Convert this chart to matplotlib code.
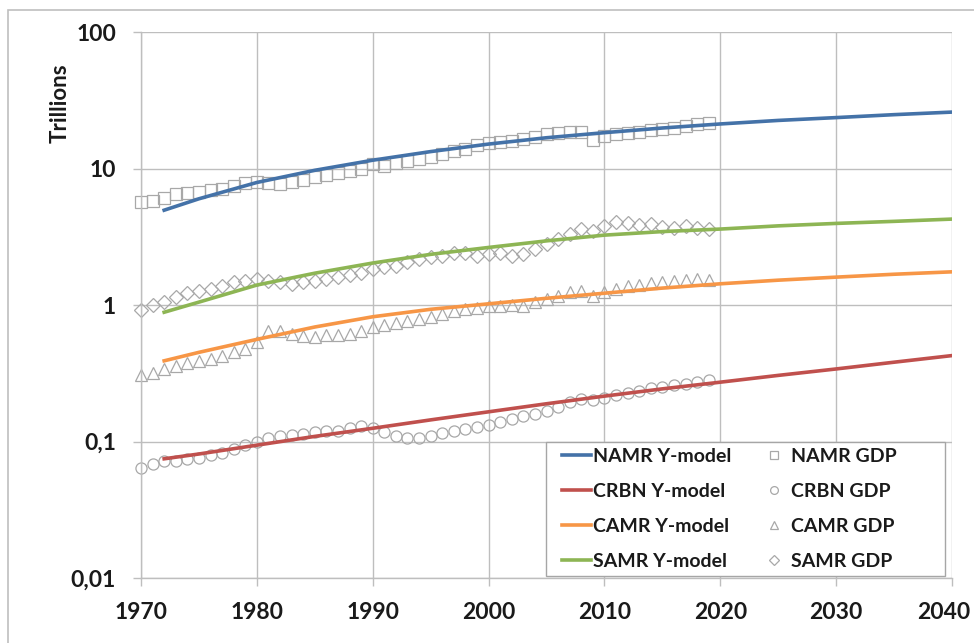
import matplotlib
matplotlib.use("Agg")
import matplotlib.pyplot as plt
from matplotlib.patches import Rectangle
from matplotlib.transforms import ScaledTranslation
from matplotlib.ticker import FixedLocator, FixedFormatter, NullLocator

# ---------------- data ----------------
model_years = [1972, 1975, 1980, 1985, 1990, 1995, 2000, 2005, 2010, 2015, 2020, 2025, 2030, 2035, 2040]
namr_model = [4.95, 6.0, 7.9, 9.7, 11.5, 13.3, 15.1, 16.8, 18.3, 19.8, 21.2, 22.5, 23.6, 24.8, 25.9]
crbn_model = [0.0747, 0.081, 0.094, 0.109, 0.125, 0.144, 0.165, 0.189, 0.215, 0.243, 0.272, 0.305, 0.340, 0.381, 0.426]
camr_model = [0.39, 0.45, 0.56, 0.69, 0.82, 0.93, 1.02, 1.12, 1.22, 1.33, 1.43, 1.52, 1.60, 1.68, 1.75]
samr_model = [0.885, 1.05, 1.40, 1.71, 2.03, 2.35, 2.64, 2.95, 3.25, 3.45, 3.60, 3.80, 3.96, 4.10, 4.26]

gdp_years = list(range(1970, 2020))
namr_gdp = [5.7, 5.8, 6.1, 6.5, 6.6, 6.7, 6.9, 7.1, 7.5, 7.8,
            7.9, 7.8, 7.7, 7.9, 8.3, 8.6, 8.9, 9.2, 9.6, 10.0,
            10.8, 10.5, 10.9, 11.4, 11.8, 12.2, 12.7, 13.5, 14.0, 14.8,
            15.5, 15.7, 15.9, 16.4, 17.1, 17.8, 18.3, 18.5, 18.5, 16.2,
            17.3, 17.8, 18.1, 18.5, 19.2, 19.6, 19.8, 20.5, 21.2, 21.6]
crbn_gdp = [0.0638, 0.0687, 0.0714, 0.0725, 0.0747, 0.0752, 0.079, 0.083, 0.0874, 0.0936,
            0.100, 0.106, 0.109, 0.112, 0.114, 0.117, 0.119, 0.120, 0.125, 0.129,
            0.125, 0.117, 0.109, 0.106, 0.106, 0.109, 0.116, 0.120, 0.124, 0.127,
            0.132, 0.139, 0.147, 0.153, 0.160, 0.168, 0.180, 0.195, 0.205, 0.200,
            0.210, 0.220, 0.228, 0.235, 0.245, 0.250, 0.258, 0.265, 0.272, 0.280]
camr_gdp = [0.307, 0.318, 0.34, 0.36, 0.376, 0.39, 0.403, 0.42, 0.45, 0.476,
            0.533, 0.65, 0.65, 0.61, 0.59, 0.58, 0.60, 0.60, 0.61, 0.65,
            0.69, 0.71, 0.74, 0.76, 0.79, 0.82, 0.86, 0.90, 0.93, 0.95,
            0.99, 0.98, 1.00, 0.99, 1.05, 1.11, 1.17, 1.24, 1.27, 1.17,
            1.24, 1.32, 1.37, 1.40, 1.45, 1.47, 1.50, 1.53, 1.55, 1.53]
samr_gdp = [0.92, 0.995, 1.06, 1.14, 1.22, 1.27, 1.32, 1.38, 1.47, 1.51,
            1.55, 1.51, 1.47, 1.42, 1.47, 1.49, 1.55, 1.61, 1.66, 1.73,
            1.83, 1.89, 1.94, 2.05, 2.17, 2.23, 2.30, 2.40, 2.40, 2.30,
            2.36, 2.40, 2.30, 2.36, 2.57, 2.79, 3.04, 3.31, 3.60, 3.50,
            3.80, 4.03, 3.98, 3.85, 3.91, 3.75, 3.68, 3.80, 3.68, 3.60]

x_ticks = [1970, 1980, 1990, 2000, 2010, 2020, 2030, 2040]
y_ticks = [0.01, 0.1, 1, 10, 100]
y_tick_labels = ["0,01", "0,1", "1", "10", "100"]

# ---------------- figure ----------------
plt.rcParams['font.family'] = ['Lato', 'DejaVu Sans']
W, H = 974, 643
fig = plt.figure(figsize=(W / 100, H / 100), dpi=100)

# outer chart border
fig.patches.append(Rectangle((8 / W, -0.05), 1.1, 1 - 10 / H + 0.05,
                             transform=fig.transFigure, fill=False,
                             edgecolor='#BFBFBF', linewidth=1.2))

ax = fig.add_axes([141 / W, (H - 578) / H, 811 / W, 546 / H])
ax.set_yscale('log')
ax.set_xlim(1970, 2040)
ax.set_ylim(0.01, 100)

grid_c = '#BEBEBE'
ax.xaxis.set_major_locator(FixedLocator(x_ticks))
ax.yaxis.set_major_locator(FixedLocator(y_ticks))
ax.yaxis.set_major_formatter(FixedFormatter(y_tick_labels))
ax.yaxis.set_minor_locator(NullLocator())
ax.grid(True, which='major', color=grid_c, linewidth=1.0)
ax.set_axisbelow(True)
for s in ['top', 'right']:
    ax.spines[s].set_visible(False)
for s in ['left', 'bottom']:
    ax.spines[s].set_color(grid_c)
    ax.spines[s].set_linewidth(1.0)
ax.tick_params(axis='both', which='major', length=6, width=1.0, color=grid_c,
               labelsize=16.5)
ax.tick_params(axis='y', pad=12)
ax.tick_params(axis='x', pad=11)
for lab in ax.get_xticklabels() + ax.get_yticklabels():
    lab.set_fontweight('bold')
    lab.set_color('#1a1a1a')

mk = dict(linestyle='none', markerfacecolor='none', markeredgecolor='#A8A8A8',
          markeredgewidth=0.9, markersize=8, clip_on=False)

h_ns, = ax.plot(gdp_years, namr_gdp, marker='s', label='NAMR GDP', **mk)
h_cs, = ax.plot(gdp_years, crbn_gdp, marker='o', label='CRBN GDP', **mk)
h_as, = ax.plot(gdp_years, camr_gdp, marker='^', label='CAMR GDP', **mk)
h_ss, = ax.plot(gdp_years, samr_gdp, marker='D', label='SAMR GDP',
                **{**mk, 'markersize': 7})

lw = 2.6
h_n, = ax.plot(model_years, namr_model, color='#4472A8', lw=lw, label='NAMR Y-model')
h_c, = ax.plot(model_years, crbn_model, color='#C0504D', lw=lw, label='CRBN Y-model')
h_a, = ax.plot(model_years, camr_model, color='#F79646', lw=lw, label='CAMR Y-model')
h_s, = ax.plot(model_years, samr_model, color='#8DB554', lw=lw, label='SAMR Y-model')

# legend frame drawn separately, legend content placed inside it
fig.patches.append(Rectangle((546 / W, 1 - 576 / H), (945 - 546) / W, (576 - 442) / H,
                             transform=fig.transFigure, facecolor='white',
                             edgecolor='#A6A6A6', linewidth=1.0, zorder=5))
fs_leg = 14
leg = fig.legend([h_n, h_c, h_a, h_s, h_ns, h_cs, h_as, h_ss],
                 ['NAMR Y-model', 'CRBN Y-model', 'CAMR Y-model', 'SAMR Y-model',
                  'NAMR GDP', 'CRBN GDP', 'CAMR GDP', 'SAMR GDP'],
                 ncol=2, loc='upper left',
                 bbox_to_anchor=(562 / W, 1 - 448 / H),
                 frameon=False, prop={'weight': 'bold', 'size': fs_leg},
                 handlelength=1.5, handletextpad=0.1, columnspacing=1.45,
                 labelspacing=0.93, borderpad=0.0, borderaxespad=0.0,
                 markerscale=0.7)
leg.set_zorder(6)
for t in leg.get_texts():
    t.set_color('#1a1a1a')

fig.text(60 / W, 1 - 103 / H, 'Trillions', rotation=90, ha='center', va='center',
         fontsize=16, fontweight='bold', color='#1a1a1a')

# keep the last x label inside the picture
last = ax.xaxis.get_major_ticks()[-1].label1
last.set_transform(last.get_transform() + ScaledTranslation(-8 / 100, 0, fig.dpi_scale_trans))

fig.savefig('out.png', dpi=100)
